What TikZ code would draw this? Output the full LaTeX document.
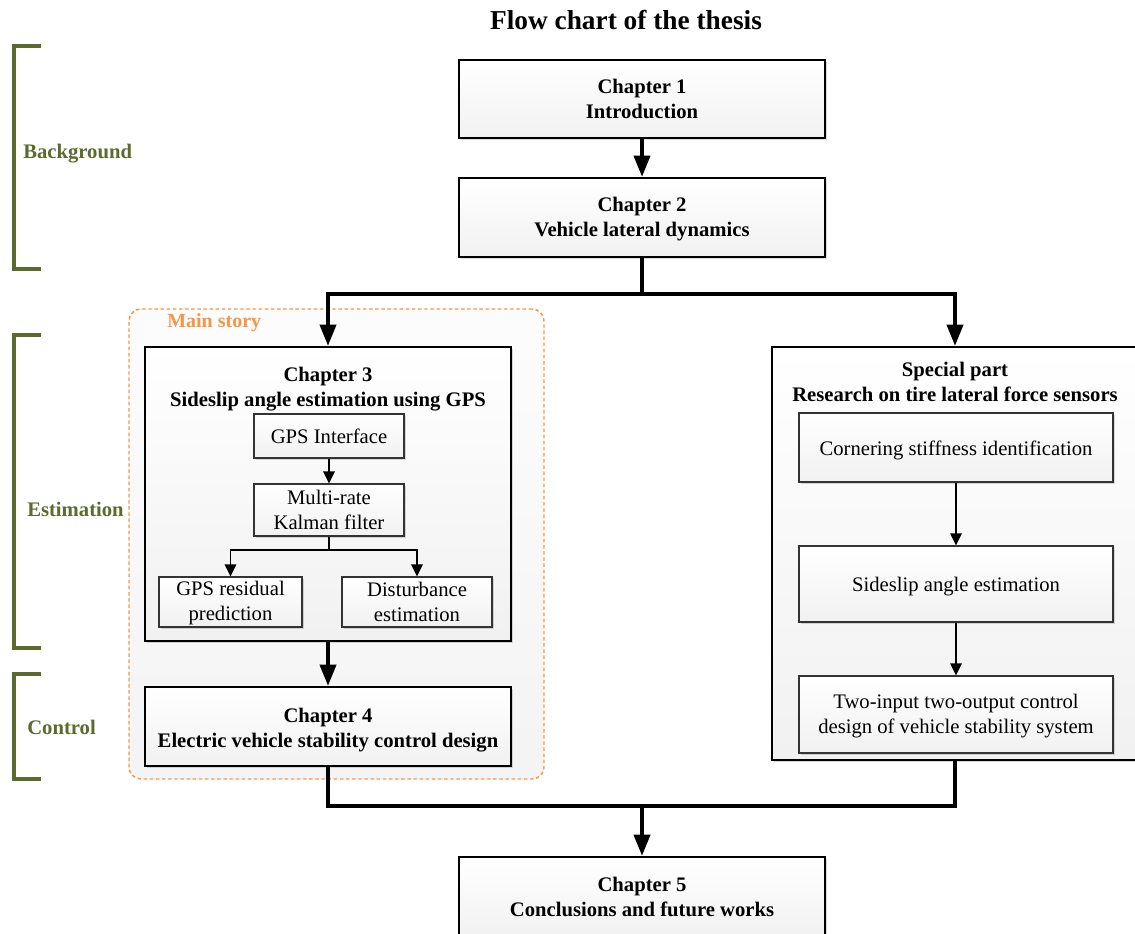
\documentclass[tikz,border=0pt]{standalone}
\usepackage{fontspec}
\setmainfont{Liberation Serif}
\usetikzlibrary{arrows.meta,shadows}

\definecolor{brkolive}{RGB}{92,106,46}
\definecolor{storyorange}{RGB}{247,150,70}

\begin{document}
\begin{tikzpicture}[x=0.75pt,y=-0.75pt,
  boxshadow/.style={drop shadow={shadow xshift=1.4pt,shadow yshift=-1.4pt,opacity=0.25,fill=black!60}},
  chapbox/.style={draw=black, line width=1.6pt, top color=white, bottom color=gray!11,
    boxshadow, align=center, inner sep=0pt,
    font=\fontsize{15.5}{18.75}\selectfont\bfseries},
  subbox/.style={draw=black!80, line width=0.9pt, top color=white, bottom color=gray!11,
    boxshadow, align=center, inner sep=0pt,
    font=\fontsize{15.5}{18.75}\selectfont},
  oneline/.style={text height=15.5pt, text depth=3.9pt},
  headtext/.style={align=center, inner sep=0pt, font=\fontsize{15.5}{18.75}\selectfont\bfseries},
  bigline/.style={line width=3pt},
  bigarrow/.style={line width=3pt, -{Triangle[width=12pt,length=16pt]}},
  smallline/.style={line width=1.4pt},
  smallarrow/.style={line width=1.4pt, -{Triangle[width=8.5pt,length=9pt]}},
  bracket/.style={draw=brkolive, line width=2.6pt},
  bracketlabel/.style={text=brkolive, anchor=west, inner sep=0pt,
    font=\fontsize{15.5}{18.75}\selectfont\bfseries}
]
\clip (0,0) rectangle (1135,934);

% title
\node[inner sep=0pt, font=\fontsize{20.5}{24}\selectfont\bfseries] (title) at (626,20) {Flow chart of the thesis};

% side brackets
\draw[bracket] (41,46) -- (14,46) -- (14,269) -- (41,269);
\node[bracketlabel] (lbg) at (23,154) {Background};
\draw[bracket] (41,335) -- (14,335) -- (14,648) -- (41,648);
\node[bracketlabel] (lest) at (27,509) {Estimation};
\draw[bracket] (41,674) -- (14,674) -- (14,779) -- (41,779);
\node[bracketlabel] (lctl) at (27,727) {Control};

% main story frame
\node[draw=storyorange, line width=1.1pt, dash pattern=on 2.6pt off 2pt,
      rounded corners=9pt, top color=gray!2, bottom color=gray!9,
      minimum width=311.25pt, minimum height=352.5pt, inner sep=0pt] (story) at (336.5,544) {};
\node[text=storyorange, anchor=west, inner sep=0pt,
      font=\fontsize{15}{18}\selectfont\bfseries] (storylabel) at (167,322.5) {Main story};

% chapters 1 and 2
\node[chapbox, minimum width=274.5pt, minimum height=58.5pt] (ch1) at (642,99) {Chapter 1\\Introduction};
\node[chapbox, minimum width=274.5pt, minimum height=59.25pt] (ch2) at (642,217.5)
  {\raisebox{-1.5pt}[\height][\depth]{Chapter 2}\\\raisebox{-1.5pt}[\height][\depth]{Vehicle lateral dynamics}};

% chapter 3 with its inner steps
\node[chapbox, minimum width=274.5pt, minimum height=220.5pt] (ch3) at (328,494) {};
\node[headtext] (ch3title) at (328,389.5) {Chapter 3\\Sideslip angle estimation using GPS};
\node[subbox, minimum width=112.5pt, minimum height=33pt] (gps) at (329,436) {GPS Interface};
\node[subbox, minimum width=112.5pt, minimum height=39pt] (mkf) at (329,510) {Multi-rate\\Kalman filter};
\node[subbox, minimum width=107.25pt, minimum height=37.5pt] (res) at (230.5,602)
  {\raisebox{-1pt}[\height][\depth]{GPS residual}\\\raisebox{-1pt}[\height][\depth]{prediction}};
\node[subbox, minimum width=112.5pt, minimum height=37.5pt] (dist) at (417,602) {Disturbance\\estimation};

% chapter 4
\node[chapbox, minimum width=274.5pt, minimum height=59.25pt] (ch4) at (328,726.5)
  {\raisebox{-3pt}[\height][\depth]{Chapter 4}\\\raisebox{-3pt}[\height][\depth]{Electric vehicle stability control design}};

% special part
\node[chapbox, minimum width=274.5pt, minimum height=309.75pt] (sp) at (955,553.5) {};
\node[headtext] (sptitle) at (955,381.5) {Special part\\Research on tire lateral force sensors};
\node[subbox, oneline, minimum width=235.5pt, minimum height=51.75pt] (cs) at (956,447.5) {Cornering stiffness identification};
\node[subbox, oneline, minimum width=235.5pt, minimum height=57pt] (sa) at (956,584) {Sideslip angle estimation};
\node[subbox, minimum width=235.5pt, minimum height=57.75pt] (ti) at (956,714.5)
  {\raisebox{-1.5pt}[\height][\depth]{Two-input two-output control}\\\raisebox{-1.5pt}[\height][\depth]{design of vehicle stability system}};

% chapter 5
\node[chapbox, minimum width=274.5pt, minimum height=60pt] (ch5) at (642,897) {Chapter 5\\Conclusions and future works};

% main connectors
\coordinate (split) at (642,294);
\coordinate (merge) at (642,806);
\draw[bigarrow] (ch1) -- (ch2);
\draw[bigline] (ch2.south) -- (split);
\draw[bigarrow] (split) -| (ch3.north);
\draw[bigarrow] (split) -| (sp.north);
\draw[bigarrow] (ch3) -- (ch4);
\draw[bigline] (ch4.south) |- (merge);
\draw[bigline] (sp.south) |- (merge);
\draw[bigarrow] (merge) -- (ch5.north);

% inner connectors
\coordinate (split2) at (329,550);
\draw[smallarrow] (gps) -- (mkf);
\draw[smallline] (mkf.south) -- (split2);
\draw[smallarrow] (split2) -| (res.north);
\draw[smallarrow] (split2) -| (dist.north);
\draw[smallarrow] (cs) -- (sa);
\draw[smallarrow] (sa) -- (ti);
\end{tikzpicture}
\end{document}
